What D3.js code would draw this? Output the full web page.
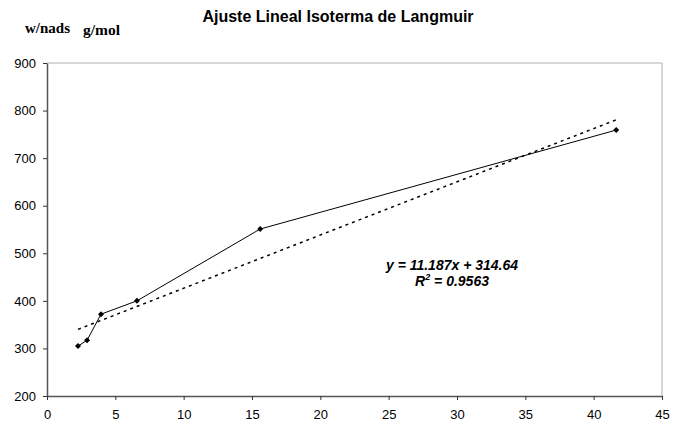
<!DOCTYPE html>
<html>
<head>
<meta charset="utf-8">
<title>Ajuste Lineal Isoterma de Langmuir</title>
<style>
  body { margin: 0; background: #fff; }
</style>
</head>
<body>
<script src="https://cdn.jsdelivr.net/npm/d3@7/dist/d3.min.js"></script>
<script>
// data
var xs = [2.27, 2.93, 3.95, 6.58, 15.6, 41.65];
var ys = [305, 317, 372, 400, 551, 759];
var slope = 11.187, intercept = 314.64;
var xTicks = [0, 5, 10, 15, 20, 25, 30, 35, 40, 45];
var yTicks = [200, 300, 400, 500, 600, 700, 800, 900];

var width = 678, height = 425;
var plot = {left: 47, right: 662, top: 63, bottom: 396};
var sans = "Liberation Sans, Arial, sans-serif";
var serif = "Liberation Serif, Times New Roman, serif";

var svg = d3.select("body").append("svg")
  .attr("width", width)
  .attr("height", height)
  .attr("font-family", sans);

var x = d3.scaleLinear().domain([0, 45]).range([plot.left, plot.right]);
var y = d3.scaleLinear().domain([200, 900]).range([plot.bottom, plot.top]);

// plot frame (light gray top/right)
svg.append("path")
  .attr("d", "M" + plot.left + "," + plot.top + "H" + plot.right + "V" + plot.bottom)
  .attr("fill", "none")
  .attr("stroke", "#b0b0b0")
  .attr("stroke-width", 1);

// axes
var xAxis = d3.axisBottom(x).tickValues(xTicks).tickSize(4).tickSizeOuter(0);
var gx = svg.append("g")
  .attr("transform", "translate(0," + plot.bottom + ")")
  .call(xAxis);
gx.attr("font-family", sans).attr("font-size", 13);
gx.select(".domain").attr("stroke", "#555").attr("stroke-width", 1.5);
gx.selectAll(".tick line").attr("stroke", "#333");
gx.selectAll(".tick text").attr("fill", "#000").attr("y", 14);

var yAxis = d3.axisLeft(y).tickValues(yTicks).tickSize(4).tickSizeOuter(0);
var gy = svg.append("g")
  .attr("transform", "translate(" + plot.left + ",0)")
  .call(yAxis);
gy.attr("font-family", sans).attr("font-size", 13);
gy.select(".domain").attr("stroke", "#555").attr("stroke-width", 1.5);
gy.selectAll(".tick line").attr("stroke", "#333");
gy.selectAll(".tick text").attr("fill", "#000").attr("x", -11);

// trendline
var xmin = d3.min(xs), xmax = d3.max(xs);
svg.append("line")
  .attr("x1", x(xmin)).attr("y1", y(slope * xmin + intercept))
  .attr("x2", x(xmax)).attr("y2", y(slope * xmax + intercept))
  .attr("stroke", "#000")
  .attr("stroke-width", 1.5)
  .attr("stroke-dasharray", "3,4");

// data line
var pts = xs.map(function(d, i) { return [d, ys[i]]; });
svg.append("path")
  .datum(pts)
  .attr("fill", "none")
  .attr("stroke", "#000")
  .attr("stroke-width", 1)
  .attr("d", d3.line().x(function(d) { return x(d[0]); }).y(function(d) { return y(d[1]); }));

svg.selectAll(".pt")
  .data(pts)
  .enter().append("path")
  .attr("class", "pt")
  .attr("transform", function(d) { return "translate(" + x(d[0]) + "," + y(d[1]) + ")"; })
  .attr("d", "M0,-3L3,0L0,3L-3,0Z")
  .attr("fill", "#000");

// title
svg.append("text")
  .attr("x", 338).attr("y", 22)
  .attr("text-anchor", "middle")
  .attr("font-size", 16).attr("font-weight", "bold")
  .text("Ajuste Lineal Isoterma de Langmuir");

// y label
svg.append("text")
  .attr("x", 25).attr("y", 33)
  .attr("font-family", serif)
  .attr("font-size", 15).attr("font-weight", "bold")
  .text("w/nads");
svg.append("text")
  .attr("x", 83).attr("y", 35)
  .attr("font-family", serif)
  .attr("font-size", 15.5).attr("font-weight", "bold")
  .text("g/mol");

// equation
var eq = svg.append("g").attr("font-size", 14).attr("font-weight", "bold").attr("font-style", "italic");
eq.append("text").attr("x", 452).attr("y", 270).attr("text-anchor", "middle")
  .text("y = " + slope + "x + " + intercept);
var r2 = eq.append("text").attr("x", 452).attr("y", 286).attr("text-anchor", "middle");
r2.append("tspan").text("R");
r2.append("tspan").attr("dy", -6).attr("font-size", 9).text("2");
r2.append("tspan").attr("dy", 6).text("  = 0.9563");
</script>
</body>
</html>
